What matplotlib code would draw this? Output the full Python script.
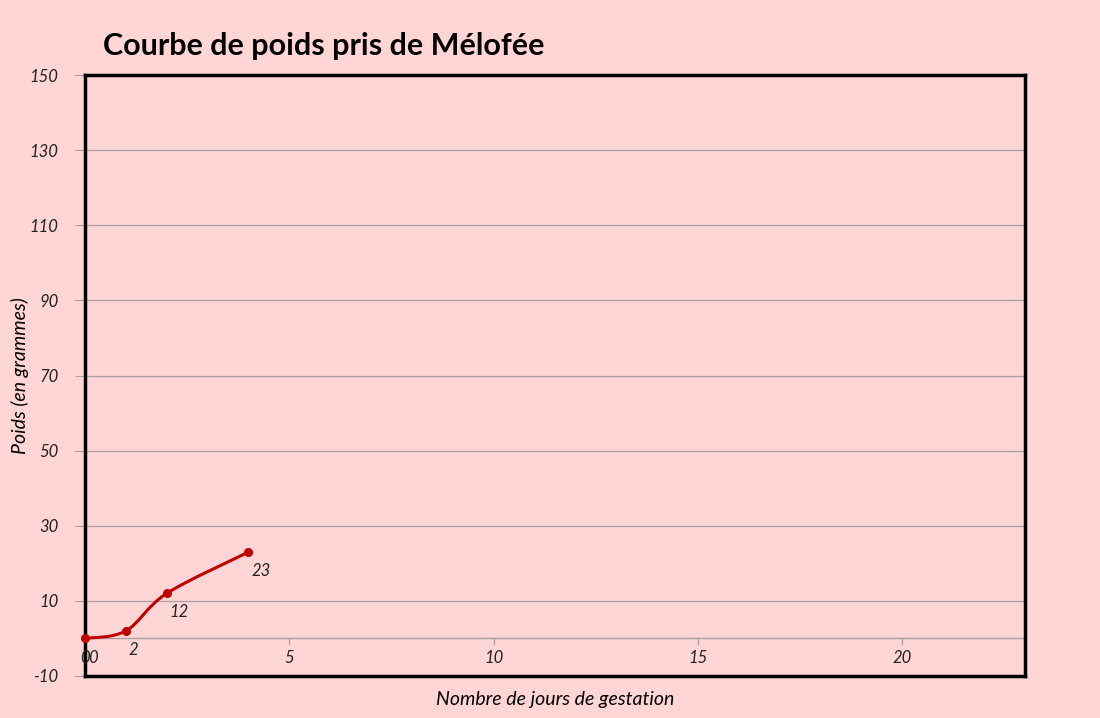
#!/usr/bin/env python3
"""
plot.py - courbe de poids de Mélofée
"""

import numpy as np
import matplotlib
matplotlib.use("Agg")
import matplotlib.pyplot as plt
from matplotlib.path import Path
from matplotlib.patches import PathPatch

# Data
jours = [0, 1, 2, 4]
poids = [0, 2, 12, 23]
etiquettes = ["0", "2", "12", "23"]
x_ticks = [0, 5, 10, 15, 20]
y_ticks = [-10, 10, 30, 50, 70, 90, 110, 130, 150]

BG = "#FFD5D5"
RED = "#C00000"
GRID = "#A8A0A0"
FONT = ["Lato", "DejaVu Sans"]


def smooth_path(xs, ys, t=1 / 6):
    # Bezier segments through the points (Excel style smoothing)
    verts = [(xs[0], ys[0])]
    codes = [Path.MOVETO]
    n = len(xs)
    for i in range(n - 1):
        x0, y0 = xs[max(i - 1, 0)], ys[max(i - 1, 0)]
        x1, y1 = xs[i], ys[i]
        x2, y2 = xs[i + 1], ys[i + 1]
        x3, y3 = xs[min(i + 2, n - 1)], ys[min(i + 2, n - 1)]
        c1 = (x1 + (x2 - x0) * t, y1 + (y2 - y0) * t)
        c2 = (x2 - (x3 - x1) * t, y2 - (y3 - y1) * t)
        verts += [c1, c2, (x2, y2)]
        codes += [Path.CURVE4] * 3
    return Path(verts, codes)


def main():
    fig = plt.figure(figsize=(11, 7.18), dpi=100, facecolor=BG)
    ax = fig.add_axes([85 / 1100, 1 - 676 / 718, 940 / 1100, 601 / 718])
    ax.set_facecolor(BG)

    ax.set_xlim(0, 23)
    ax.set_ylim(-10, 150)

    # grid lines
    for y in y_ticks[1:]:
        ax.axhline(y, color=GRID, lw=0.9, zorder=1)
    ax.axhline(0, color=GRID, lw=1.0, zorder=1)

    # x ticks on the zero line
    for x in x_ticks[1:]:
        ax.plot([x, x], [0, -1.6], color=GRID, lw=0.9, zorder=1)
    for x in x_ticks:
        ax.text(x, -5.2, str(x), ha="center", va="center", fontsize=12,
                style="italic", family=FONT, color="#222222")

    # curve
    patch = PathPatch(smooth_path(jours, poids), facecolor="none", edgecolor=RED,
                      lw=2.2, zorder=3, clip_on=False)
    ax.add_patch(patch)
    ax.plot(jours, poids, "o", color=RED, ms=5.5, zorder=4, clip_on=False)
    for x, y, lab in zip(jours, poids, etiquettes):
        ax.annotate(lab, (x, y), xytext=(2, -8), textcoords="offset points",
                    ha="left", va="top", fontsize=12, family=FONT,
                    color="#222222", style="italic")

    ax.set_xticks([])
    ax.set_yticks(y_ticks)
    ax.set_yticklabels([str(v) for v in y_ticks], fontsize=12, style="italic",
                       family=FONT, color="#222222")
    ax.tick_params(axis="y", length=7, color=GRID, pad=12)

    for s in ax.spines.values():
        s.set_color("black")
        s.set_linewidth(2.5)

    fig.text(103 / 1100, 1 - 46 / 718, "Courbe de poids pris de Mélofée",
             fontsize=22, fontweight="bold", family=FONT, va="center", ha="left")
    fig.text(20 / 1100, 1 - 376 / 718, "Poids (en grammes)", rotation=90,
             fontsize=14, style="italic", family=FONT, va="center", ha="center")
    fig.text(555 / 1100, 1 - 700 / 718, "Nombre de jours de gestation",
             fontsize=14, style="italic", family=FONT, va="center", ha="center")

    fig.savefig("out.png", dpi=100, facecolor=BG)
    plt.close(fig)


if __name__ == "__main__":
    main()
